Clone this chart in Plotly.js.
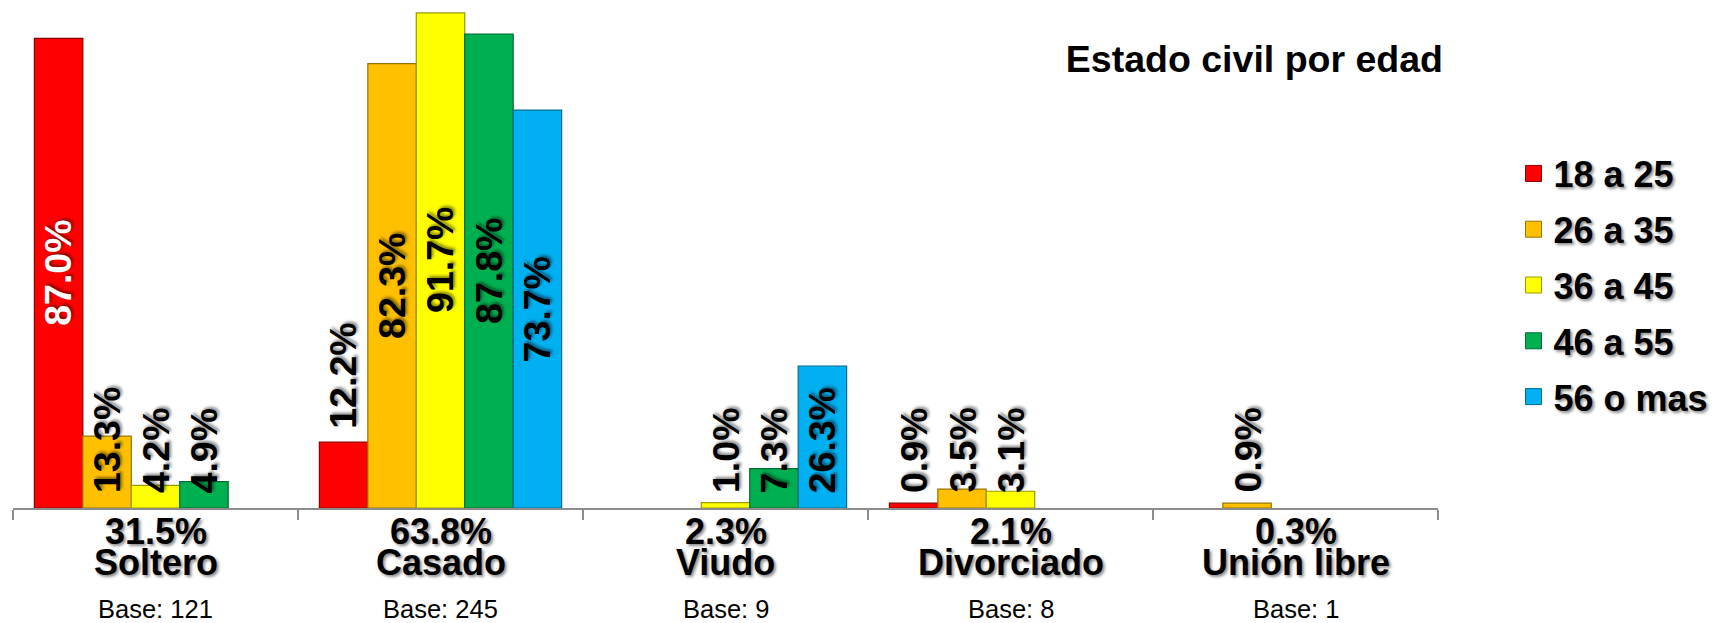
<!DOCTYPE html>
<html>
<head>
<meta charset="utf-8">
<script src="https://cdn.plot.ly/plotly-3.0.1.min.js"></script>
<style>html,body{margin:0;padding:0;background:#fff;}#chart{width:1714px;height:623px;}</style>
</head>
<body>
<div id="chart"></div>
<script>
// ---- data ----
const categories = ['Soltero', 'Casado', 'Viudo', 'Divorciado', 'Unión libre'];
const totals = [31.5, 63.8, 2.3, 2.1, 0.3];
const bases = [121, 245, 9, 8, 1];
const seriesNames = ['18 a 25', '26 a 35', '36 a 45', '46 a 55', '56 o mas'];
const s18_25 = [87.0, 12.2, null, 0.9, null];
const s26_35 = [13.3, 82.3, null, 3.5, 0.9];
const s36_45 = [4.2, 91.7, 1.0, 3.1, null];
const s46_55 = [4.9, 87.8, 7.3, null, null];
const s56_mas = [null, 73.7, 26.3, null, null];
const seriesValues = [s18_25, s26_35, s36_45, s46_55, s56_mas];

// ---- styling ----
const colors = ['#FF0000', '#FFC000', '#FFFF00', '#00B050', '#00B0F0'];
const edges = ['#8B0000', '#9A7300', '#9A9A00', '#006B30', '#006A90'];
const labelColors = ['#FFFFFF', '#000000', '#000000', '#000000', '#000000'];
// label placement per series/category: mid = centred in bar, out = above bar end, base = near axis
const labelModes = [
  ['mid', 'out', null, 'base', null],
  ['base', 'mid', null, 'base', 'base'],
  ['base', 'mid', 'base', 'base', null],
  ['base', 'mid', 'base', null, null],
  [null, 'mid', 'base', null, null]
];
const FONT = 'Liberation Sans, Arial, Helvetica, sans-serif';
const SHADOW = '2px 2px 3px rgba(0,0,0,0.45)';
const bargap = 0.15;
const nSeries = seriesNames.length;
const barW = (1 - bargap) / nSeries;

const traces = seriesNames.map((name, j) => ({
  type: 'bar',
  name: name,
  x: categories,
  y: seriesValues[j],
  marker: {color: colors[j], line: {color: edges[j], width: 1.2}},
  showlegend: false,
  hoverinfo: 'x+y+name'
}));
// legend entries with larger square symbols
seriesNames.forEach((name, j) => {
  traces.push({
    type: 'scatter', mode: 'markers', name: name,
    x: [null], y: [null],
    marker: {symbol: 'square', size: 20, color: colors[j], line: {color: edges[j], width: 1}},
    legendgroup: 'g' + j,
    showlegend: true,
    hoverinfo: 'skip'
  });
});

const annotations = [];
seriesValues.forEach((vals, j) => {
  vals.forEach((v, i) => {
    if (v === null) return;
    const mode = labelModes[j][i];
    const xpos = i + (j - (nSeries - 1) / 2) * barW;
    const a = {
      x: xpos, xref: 'x', yref: 'y',
      text: v.toFixed(1) + '%',
      textangle: -90, showarrow: false,
      font: {family: FONT, size: 37.5, weight: 700, color: mode === 'mid' ? labelColors[j] : '#000000', shadow: SHADOW}
    };
    if (mode === 'mid') { a.y = v / 2; a.yanchor = 'middle'; }
    else if (mode === 'out') { a.y = v; a.yanchor = 'bottom'; a.yshift = 11; }
    else { a.y = 0; a.yanchor = 'bottom'; a.yshift = 13; }
    annotations.push(a);
  });
});
categories.forEach((c, i) => {
  annotations.push({
    x: c, xref: 'x', y: 0, yref: 'paper', yanchor: 'middle', yshift: -23,
    text: totals[i].toFixed(1) + '%', showarrow: false,
    font: {family: FONT, size: 36, weight: 700, color: '#000', shadow: SHADOW}
  });
  annotations.push({
    x: c, xref: 'x', y: 0, yref: 'paper', yanchor: 'middle', yshift: -54,
    text: c, showarrow: false,
    font: {family: FONT, size: 36, weight: 700, color: '#000', shadow: SHADOW}
  });
  annotations.push({
    x: c, xref: 'x', y: 0, yref: 'paper', yanchor: 'middle', yshift: -101,
    text: 'Base: ' + bases[i], showarrow: false,
    font: {family: FONT, size: 25.5, color: '#000'}
  });
});

const layout = {
  width: 1714, height: 623,
  margin: {l: 13, r: 276, t: 0, b: 115, autoexpand: false},
  paper_bgcolor: '#fff', plot_bgcolor: '#fff',
  barmode: 'group', bargap: bargap, bargroupgap: 0,
  title: {
    text: 'Estado civil por edad',
    x: 1443 / 1714, xanchor: 'right', y: 1 - 59 / 623, yanchor: 'middle',
    font: {family: FONT, size: 37.5, weight: 700, color: '#000'}
  },
  xaxis: {
    type: 'category', range: [-0.5, 4.5], fixedrange: true,
    showline: true, linecolor: '#8C8C8C', linewidth: 2,
    ticks: 'outside', tickson: 'boundaries', ticklen: 10, tickcolor: '#8C8C8C', tickwidth: 2,
    showticklabels: false, showgrid: false, zeroline: false
  },
  yaxis: {
    range: [0, 94.1], visible: false, showgrid: false, zeroline: false, fixedrange: true
  },
  legend: {
    x: 1.053, xanchor: 'left', y: 0.7175, yanchor: 'top',
    traceorder: 'grouped', tracegroupgap: 6,
    font: {family: FONT, size: 36, weight: 700, color: '#000', shadow: SHADOW},
    bgcolor: 'rgba(0,0,0,0)', itemclick: false
  },
  annotations: annotations,
  showlegend: true
};

Plotly.newPlot('chart', traces, layout, {displayModeBar: false, staticPlot: true});
</script>
</body>
</html>
